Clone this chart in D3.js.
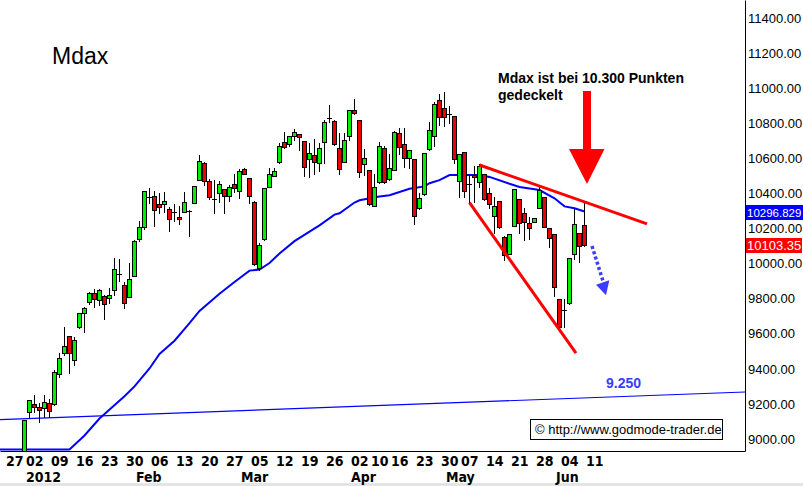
<!DOCTYPE html>
<html><head><meta charset="utf-8">
<script src="https://cdn.jsdelivr.net/npm/d3@7/dist/d3.min.js"></script>
<style>
html,body{margin:0;padding:0;background:#fff;}
svg{display:block;}
</style></head><body>
<svg id="c" width="803" height="486"></svg>
<script>
// Trading-day index 0 = 2012-01-02 (Xetra days, holidays Apr 6, Apr 9, May 1 excluded)
const open  = [8900,9152,9200,9181,9175,9203,9198,9369,9489,9587,9450,9637,9717,9783,9831,9792,9817,9802,9849,9942,
  9878,9808,9931,10140,10210,10375,10387,10340,10338,10309,10290,10264,10296,10300,10347,10476,10571,10472,10370,10404,
  10423,10385,10455,10412,10537,10486,10353,9973,10138,10438,10499,10577,10691,10680,10729,10737,10699,10598,10619,10575,
  10691,10830,10814,10657,10581,10727,10875,10818,10568,10533,10328,10463,10657,10480,10533,10742,10682,10600,10594,10315,
  10395,10651,10726,10932,10885,10855,10841,10472,10636,10454,10504,10467,10510,10401,10273,10357,10153,10055,10214,10366,
  10290,10233,10239,10319,10378,10201,10167,9796,9738,9773,10053,10173,10220];
const high  = [9110,9222,9251,9207,9251,9226,9393,9489,9640,9590,9583,9720,9754,9840,9853,9853,9820,9859,10030,10024,
  9897,10002,10133,10245,10416,10429,10412,10400,10410,10321,10340,10330,10410,10303,10445,10619,10579,10480,10476,10471,
  10425,10448,10509,10537,10543,10488,10355,10116,10431,10543,10547,10686,10748,10729,10767,10739,10701,10686,10710,10686,
  10818,10904,10816,10743,10746,10877,10938,10820,10653,10535,10511,10691,10672,10625,10756,10771,10771,10650,10596,10400,
  10631,10805,10923,10967,10976,10898,10843,10627,10638,10505,10555,10566,10512,10429,10378,10359,10155,10171,10425,10368,
  10315,10267,10260,10442,10380,10203,10169,9798,9798,10032,10309,10175,10347];
const low   = [8880,9124,9154,9099,9124,9124,9194,9355,9479,9375,9422,9634,9612,9770,9751,9764,9682,9777,9821,9902,
  9745,9808,9928,10129,10195,10347,10216,10290,10295,10185,10245,10225,10293,10160,10345,10474,10450,10367,10287,10353,
  10290,10358,10410,10372,10510,10344,9994,9963,10136,10436,10497,10575,10657,10670,10705,10647,10501,10495,10509,10528,
  10575,10805,10678,10511,10579,10704,10854,10495,10505,10336,10326,10461,10461,10478,10531,10625,10552,10543,10224,10313,
  10393,10649,10670,10790,10786,10800,10575,10381,10381,10347,10353,10438,10364,10315,10173,10205,10020,10053,10212,10176,
  10134,10138,10237,10317,10208,10096,9815,9638,9638,9771,10026,10011,10101];
const close = [9108,9222,9184,9167,9209,9161,9380,9460,9530,9489,9564,9717,9748,9831,9796,9849,9768,9821,9967,9936,
  9774,9912,10130,10207,10414,10380,10305,10321,10357,10252,10294,10256,10349,10302,10442,10585,10470,10381,10366,10452,
  10385,10438,10429,10526,10512,10387,9996,10106,10429,10509,10528,10670,10667,10727,10748,10720,10552,10632,10577,10657,
  10809,10826,10680,10537,10704,10875,10856,10520,10600,10338,10435,10670,10463,10543,10748,10662,10604,10648,10273,10376,
  10629,10761,10908,10833,10833,10851,10594,10625,10415,10450,10492,10556,10366,10340,10328,10207,10049,10169,10423,10230,
  10239,10201,10258,10419,10210,10148,9868,9640,9733,10030,10226,10102,10103.35];

// moving average
const maDay   = [-5,4,9,12,15,20,22,25,27,30,33,35,39,42,45,47,49,51,54,57,59,62,63,66,67,71,73,77,80,81,83,85,91,93,97,99,103,106,108,110,112];
const maValue = [8850,8880,8940,9020,9117,9244,9300,9402,9485,9560,9660,9730,9828,9895,9960,9966,10003,10058,10128,10182,10218,10279,10287,10348,10361,10382,10390,10427,10440,10458,10476,10505,10505,10494,10455,10437,10419,10372,10326,10315,10296.829];

const weekTicks  = [-4,0,5,10,15,20,25,30,35,40,45,50,55,60,65,69,73,78,83,87,92,97,102,107,112];
const weekLabels = ["27","02","09","16","23","30","06","13","20","27","05","12","19","26","02","10","16","23","30","07","14","21","28","04","11"];
const monthTicks  = [0,22,43,65,84,106];
const monthLabels = ["2012","Feb","Mar","Apr","May","Jun"];
const yTicks = [9000,9200,9400,9600,9800,10000,10200,10400,10600,10800,11000,11200,11400];

const supportDay = [-4.9,144.1], supportVal = [9111,9268];
const upperDay = [91,124.5], upperVal = [10562,10226];
const lowerDay = [89,110.3], lowerVal = [10347,9490];
const lastMA = 10296.829, lastClose = 10103.35;

const W = 745, H = 451;
const svg = d3.select("#c");
const x = d3.scaleLinear().domain([-4.9,144.1]).range([0,W]);
const y = d3.scaleLinear().domain([8931.6,11502.6]).range([H,0]);

svg.append("rect").attr("x",0).attr("y",483).attr("width",803).attr("height",3).attr("fill","#e4e4e4");

const defs = svg.append("defs");
defs.append("clipPath").attr("id","clip").append("rect").attr("x",0).attr("y",0).attr("width",W).attr("height",H);
const plot = svg.append("g").attr("clip-path","url(#clip)");

// support line
plot.append("line")
  .attr("x1",x(supportDay[0])).attr("y1",y(supportVal[0]))
  .attr("x2",x(supportDay[1])).attr("y2",y(supportVal[1]))
  .attr("stroke","#0000ff").attr("stroke-width",1.2);

// MA
const maPts = maDay.map((d,i)=>[d,maValue[i]]);
plot.append("path").datum(maPts)
  .attr("d", d3.line().x(d=>x(d[0])).y(d=>Math.min(y(d[1]),449.5)))
  .attr("fill","none").attr("stroke","#0000ff").attr("stroke-width",2);

// candles
const cg = plot.append("g");
close.forEach((c,i)=>{
  const o = open[i];
  const px = Math.floor(x(i));
  cg.append("line").attr("x1",px+0.5).attr("x2",px+0.5)
    .attr("y1",Math.round(y(high[i]))).attr("y2",Math.round(y(low[i]))+1)
    .attr("stroke","#000").attr("stroke-width",1);
  const yt = Math.round(y(Math.max(o,c))), yb = Math.round(y(Math.min(o,c)));
  if (yb - yt < 2) {
    cg.append("line").attr("x1",px-2).attr("x2",px+3).attr("y1",yt+0.5).attr("y2",yt+0.5)
      .attr("stroke","#000").attr("stroke-width",1);
  } else {
    cg.append("rect").attr("x",px-1.5).attr("y",yt+0.5).attr("width",4).attr("height",yb-yt)
      .attr("fill", c>=o ? "#00ee00" : "#ee0000").attr("stroke","#000").attr("stroke-width",1);
  }
});

// red trend lines
[[upperDay,upperVal],[lowerDay,lowerVal]].forEach(([d,v])=>{
  plot.append("line").attr("x1",x(d[0])).attr("y1",y(v[0])).attr("x2",x(d[1])).attr("y2",y(v[1]))
    .attr("stroke","#ff0000").attr("stroke-width",3);
});

// axes
const xAxis = d3.axisBottom(x).tickValues(weekTicks).tickFormat((d,i)=>weekLabels[i]).tickSize(0).tickSizeOuter(0).tickPadding(5);
const gx = svg.append("g").attr("transform",`translate(0,${H})`).call(xAxis);
gx.select(".domain").attr("stroke","#000");
gx.selectAll("text").attr("text-anchor","start").attr("x",1).attr("fill","#000")
  .style("font-family","'Liberation Sans Narrow','DejaVu Sans Condensed',sans-serif").style("font-weight","bold").style("font-size","14px");
const mAxis = d3.axisBottom(x).tickValues(monthTicks).tickFormat((d,i)=>monthLabels[i]).tickSize(0).tickPadding(21);
const gm = svg.append("g").attr("transform",`translate(0,${H})`).call(mAxis);
gm.select(".domain").remove();
gm.selectAll("text").attr("text-anchor","start").attr("x",1).attr("fill","#000")
  .style("font-family","'Liberation Sans Narrow','DejaVu Sans Condensed',sans-serif").style("font-weight","bold").style("font-size","14px");

const yAxis = d3.axisRight(y).tickValues(yTicks).tickFormat(d3.format(".2f")).tickSize(0).tickSizeOuter(0).tickPadding(3);
const gy = svg.append("g").attr("transform",`translate(${W},0)`).call(yAxis);
gy.select(".domain").attr("stroke","#000");
gy.selectAll("text").attr("fill","#000")
  .style("font-family","'Liberation Sans',Arial,sans-serif").style("font-size","13px");

// value boxes
[[lastMA,"#0000ff",d3.format(".3f")(lastMA),58,"11.5px"],[lastClose,"#ff0000",d3.format(".2f")(lastClose),56,"13px"]].forEach(([v,col,t,w,fs])=>{
  const yy = Math.round(y(v));
  svg.append("rect").attr("x",W+1).attr("y",yy-7).attr("width",w).attr("height",15).attr("fill",col);
  svg.append("text").attr("x",W+2).attr("y",yy+5).attr("fill","#fff")
    .style("font-family","'Liberation Sans',Arial,sans-serif").style("font-size",fs).text(t);
});

// title
svg.append("text").attr("x",52).attr("y",63.5).text("Mdax")
  .style("font-family","'Liberation Sans',Arial,sans-serif").style("font-size","23px").attr("fill","#000");

// annotation
const ann = svg.append("text").style("font-family","'Liberation Sans',Arial,sans-serif").style("font-size","14px").style("font-weight","bold");
ann.append("tspan").attr("x",498).attr("y",83).text("Mdax ist bei 10.300 Punkten");
ann.append("tspan").attr("x",498).attr("y",99.5).text("gedeckelt");

// big red arrow (data coords)
const arrowDay = 112.5;
const ax = x(arrowDay);
svg.append("rect").attr("x",ax-4).attr("y",y(10984)).attr("width",8).attr("height",y(10648)-y(10984)).attr("fill","#ff0000");
svg.append("path").attr("d",`M${x(arrowDay-3.6)},${y(10653)}L${x(arrowDay+3.5)},${y(10653)}L${ax},${y(10454)}Z`).attr("fill","#ff0000");

// blue dotted arrow
svg.append("line").attr("x1",x(113.5)).attr("y1",y(10100)).attr("x2",x(115.7)).attr("y2",y(9900))
  .attr("stroke","#3c3cff").attr("stroke-width",3.5).attr("stroke-dasharray","3,2.5");
svg.append("path").attr("d",`M${x(114.3)},${y(9880)}L${x(116.96)},${y(9905)}L${x(116.3)},${y(9820)}Z`).attr("fill","#3c3cff");

// support label
svg.append("text").attr("x",623.5).attr("y",388).attr("text-anchor","middle").attr("fill","#3c3cff")
  .style("font-family","'Liberation Sans',Arial,sans-serif").style("font-size","14px").style("font-weight","bold").text("9.250");

// copyright box
svg.append("rect").attr("x",530.5).attr("y",419.5).attr("width",192).attr("height",20).attr("fill","#fff").attr("stroke","#000");
svg.append("text").attr("x",535).attr("y",434).attr("fill","#000")
  .style("font-family","'Liberation Sans',Arial,sans-serif").style("font-size","13px").text("© http://www.godmode-trader.de");
</script>
</body></html>
